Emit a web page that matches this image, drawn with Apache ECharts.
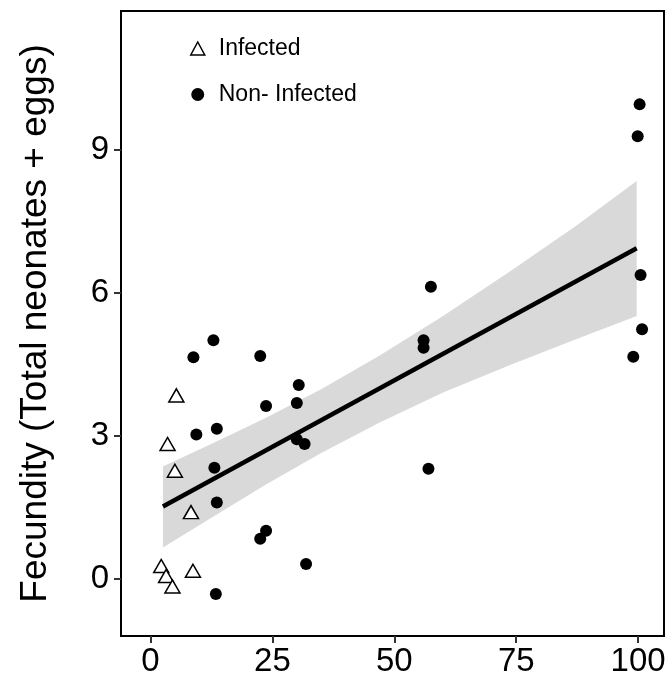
<!DOCTYPE html>
<html>
<head>
<meta charset="utf-8">
<script src="https://cdn.jsdelivr.net/npm/echarts@6/dist/echarts.min.js"></script>
<style>
  html, body { margin: 0; padding: 0; background: #fff; }
  #chart { width: 669px; height: 681px; }
</style>
</head>
<body>
<div id="chart"></div>
<script>
// infected animals: x = proportion, y = fecundity
const infectedX = [5.3, 3.5, 5.0, 8.3, 2.2, 3.2, 4.5, 8.7];
const infectedY = [3.85, 2.83, 2.27, 1.40, 0.27, 0.06, -0.16, 0.17];

// non infected animals
const healthyX = [12.9, 8.8, 22.5, 30.4, 30.0, 23.7, 9.4, 13.6, 13.1, 13.6, 23.7, 22.5, 13.4,
  30.0, 31.6, 31.9, 57.5, 56.0, 56.0, 57.0, 100.3, 99.9, 100.5, 100.8, 99.0];
const healthyY = [5.01, 4.65, 4.68, 4.07, 3.69, 3.63, 3.03, 3.15, 2.33, 1.60, 1.01, 0.84, -0.32,
  2.93, 2.83, 0.31, 6.13, 5.01, 4.85, 2.31, 9.96, 9.29, 6.38, 5.24, 4.66];

// fitted line and its confidence band
const fitX = [2.55, 99.7];
const fitY = [1.52, 6.94];
const bandX = [2.55, 12, 23.5, 35, 47, 60, 74, 87, 99.7];
const bandLow = [0.66, 1.25, 1.97, 2.64, 3.28, 3.91, 4.50, 5.02, 5.52];
const bandHigh = [2.36, 2.81, 3.37, 3.98, 4.69, 5.52, 6.47, 7.39, 8.35];

const xTicks = [0, 25, 50, 75, 100];
const yTicks = [0, 3, 6, 9];

const font = '"Liberation Sans", Arial, sans-serif';

let chart = echarts.init(document.getElementById('chart'), null, { renderer: 'canvas' });

let option = {
  animation: false,
  backgroundColor: '#fff',
  textStyle: { fontFamily: font, color: '#000' },
  grid: {
    left: 121, right: 5, top: 11, bottom: 45,
    show: true,
    borderColor: '#000',
    borderWidth: 2,
    backgroundColor: 'transparent'
  },
  legend: {
    orient: 'vertical',
    left: 185,
    top: 32,
    itemWidth: 14,
    itemHeight: 13,
    itemGap: 23,
    textStyle: { fontFamily: font, fontSize: 23, color: '#000', lineHeight: 23, padding: [0, 0, 0, 9] },
    data: [
      { name: 'Infected', icon: 'triangle', itemStyle: { color: '#fff', borderColor: '#000', borderWidth: 1.5, opacity: 1 } },
      { name: 'Non- Infected', icon: 'circle', itemStyle: { color: '#000', opacity: 1 } }
    ]
  },
  xAxis: {
    type: 'value',
    min: -6.05,
    max: 105.3,
    splitLine: { show: false },
    axisLine: { show: true, onZero: false, lineStyle: { color: '#000', width: 2 } },
    axisTick: { show: true, customValues: xTicks, length: 7, lineStyle: { color: '#333', width: 2 } },
    axisLabel: { customValues: xTicks, fontSize: 33, color: '#000', fontFamily: font, margin: 9 }
  },
  yAxis: {
    type: 'value',
    min: -1.2,
    max: 11.92,
    name: 'Fecundity (Total neonates + eggs)',
    nameLocation: 'middle',
    nameRotate: 90,
    nameGap: 67,
    nameTextStyle: { fontSize: 37, color: '#000', fontFamily: font },
    splitLine: { show: false },
    axisLine: { show: true, onZero: false, lineStyle: { color: '#000', width: 2 } },
    axisTick: { show: true, customValues: yTicks, length: 7, lineStyle: { color: '#333', width: 2 } },
    axisLabel: { customValues: yTicks, fontSize: 33, color: '#000', fontFamily: font, margin: 12 }
  },
  series: [
    {
      name: 'band',
      type: 'custom',
      silent: true,
      z: 1,
      data: bandX.map((x, i) => [x, bandLow[i], bandHigh[i]]),
      encode: { x: 0, y: [1, 2] },
      renderItem(params, api) {
        if (params.dataIndex !== 0) return null;
        let pts = [];
        bandX.forEach((x, i) => pts.push(api.coord([x, bandHigh[i]])));
        for (let i = bandX.length - 1; i >= 0; i--) pts.push(api.coord([bandX[i], bandLow[i]]));
        return { type: 'polygon', shape: { points: pts }, style: { fill: '#d9d9d9' } };
      }
    },
    {
      name: 'Non- Infected',
      type: 'scatter',
      z: 3,
      symbol: 'circle',
      symbolSize: 12,
      itemStyle: { color: '#000', opacity: 1 },
      data: healthyX.map((x, i) => [x, healthyY[i]])
    },
    {
      name: 'Infected',
      type: 'scatter',
      z: 3,
      symbol: 'triangle',
      symbolSize: [15, 13],
      itemStyle: { color: '#fff', borderColor: '#000', borderWidth: 1.5, opacity: 1 },
      data: infectedX.map((x, i) => [x, infectedY[i]])
    },
    {
      name: 'fit',
      type: 'line',
      z: 4,
      silent: true,
      symbol: 'none',
      lineStyle: { color: '#000', width: 4.5 },
      data: fitX.map((x, i) => [x, fitY[i]])
    }
  ]
};

chart.setOption(option);
</script>
</body>
</html>
